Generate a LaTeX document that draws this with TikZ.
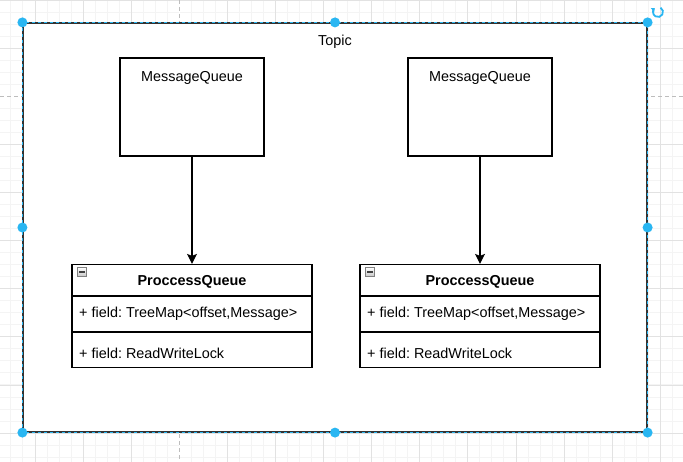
\documentclass[tikz,border=0pt]{standalone}
\usepackage{fontspec}
\setmainfont{Liberation Sans}
\usetikzlibrary{arrows.meta,positioning}
\definecolor{gridminor}{HTML}{F4F4F4}
\definecolor{gridmajor}{HTML}{E2E2E2}
\definecolor{pageline}{HTML}{BDBDBD}
\definecolor{handle}{HTML}{29B6F2}
\tikzset{
    mqbox/.style={draw, line width=1.2pt, fill=white, minimum width=144pt, minimum height=98pt, inner sep=0pt},
    pqbox/.style={draw, line width=1.2pt, fill=white, minimum width=240pt, minimum height=103pt, inner sep=0pt},
    txt/.style={font=\fontsize{14.4}{17}\selectfont\frenchspacing, inner sep=0pt},
    handledot/.style={circle, fill=handle, minimum size=10pt, inner sep=0pt},
    flow/.style={line width=1.2pt, -{Stealth[length=10pt,width=10pt,inset=2pt]}}
}

\begin{document}
\begin{tikzpicture}[x=1pt,y=-1pt]
    \useasboundingbox (0,0) rectangle (683,462);

    % grid
    \foreach \k in {-3,...,54} {
        \draw[gridminor, line width=1pt] ({35+12.025*\k},0) -- ({35+12.025*\k},462);
    }
    \foreach \k in {-4,...,34} {
        \draw[gridminor, line width=1pt] (0,{48.3+12.025*\k}) -- (683,{48.3+12.025*\k});
    }
    \foreach \k in {0,...,13} {
        \draw[gridmajor, line width=1pt] ({35+48.1*\k},0) -- ({35+48.1*\k},462);
    }
    \foreach \k in {-1,...,8} {
        \draw[gridmajor, line width=1pt] (0,{48.3+48.1*\k}) -- (683,{48.3+48.1*\k});
    }
    \draw[white, line width=1.4pt]
    (179.6,0) -- (179.6,462)
    (0,96.6) -- (683,96.6);
    \draw[pageline, line width=1pt, dash pattern=on 4pt off 3pt]
    (179.6,0) -- (179.6,462)
    (0,96.6) -- (683,96.6);

    % topic frame
    \node[draw=black!80, fill=white, line width=1.2pt, minimum width=624pt, minimum height=409pt, inner sep=0pt] (topic) at (335,227.5) {};
    \node[txt] (topiclabel) at (335,41.5) {Topic};

    \foreach \n/\cx in {1/192, 2/480} {
        \node[mqbox] (mq\n) at (\cx,107) {};
        \node[txt] (mqlabel\n) at (\cx,77.5) {MessageQueue};

        \node[pqbox] (pq\n) at (\cx,316) {};
        \draw[line width=1.2pt]
        (pq\n.west |- 0,296) -- (pq\n.east |- 0,296)
        (pq\n.west |- 0,332) -- (pq\n.east |- 0,332);
        \node[draw=gray, top color=white, bottom color=gray!45, minimum size=9pt, inner sep=0pt] (fold\n) at ({\cx-110},272) {};
        \draw[black!75, line width=1.2pt] ([xshift=2pt]fold\n.west) -- ([xshift=-2pt]fold\n.east);
        \node[txt] (pqlabel\n) at (\cx,281.5) {\bfseries ProccessQueue};
        \node[txt, anchor=west] (fieldmap\n) at ({\cx-113},313.5) {+ field: TreeMap<offset,Message>};
        \node[txt, anchor=west] (fieldlock\n) at ({\cx-113},353.5) {+ field: ReadWriteLock};

        \draw[flow] (mq\n.south) -- (pq\n.north);
    }

    % selection
    \draw[handle, line width=1.2pt, dash pattern=on 3pt off 3pt] (topic.north west) rectangle (topic.south east);
    \foreach \a in {north west, north, north east, east, south east, south, south west, west} {
        \node[handledot] at (topic.\a) {};
    }
    \coordinate (rot) at (658,12);
    \draw[handle, line width=1.8pt, -{Triangle[length=3pt,width=5pt]}]
    (rot) ++(-60:5) arc[start angle=-60, end angle=230, radius=5];
\end{tikzpicture}
\end{document}
